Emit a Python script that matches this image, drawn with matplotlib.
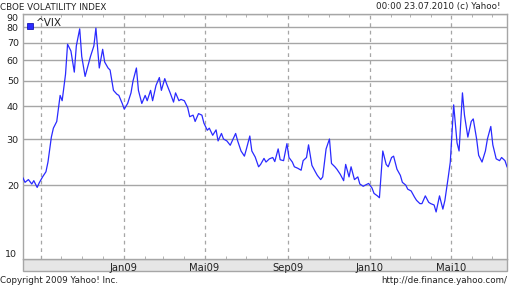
import matplotlib
matplotlib.use('Agg')
import matplotlib.pyplot as plt
import matplotlib.patches as patches
import matplotlib.dates as mdates
from matplotlib.ticker import NullLocator, FixedLocator, NullFormatter
import pandas as pd

vix = [21.3, 20.5, 21.0, 20.2, 20.8, 19.6, 20.4, 21.5, 22.5, 24.5,
       30.5, 33.0, 35.0, 44.0, 42.0, 53.0, 69.0, 65.0, 54.0, 68.0,
       79.0, 62.0, 52.0, 58.0, 62.0, 68.0, 79.5, 56.0, 66.0, 59.0,
       56.0, 55.0, 46.0, 44.5, 44.0, 41.0, 39.0, 41.0, 45.0, 50.0,
       56.0, 46.0, 41.0, 44.0, 42.0, 46.0, 42.0, 48.0, 51.5, 46.0,
       51.0, 48.5, 45.0, 41.5, 45.0, 42.0, 42.5, 42.0, 39.5, 36.5,
       37.0, 35.0, 37.5, 37.0, 34.5, 32.4, 33.0, 31.0, 32.5, 29.5,
       31.5, 30.0, 29.5, 28.4, 29.5, 31.5, 29.5, 27.0, 25.8, 27.5,
       30.8, 27.0, 25.6, 23.5, 24.0, 25.3, 24.5, 25.2, 25.5, 24.6,
       27.5, 25.0, 24.8, 28.8, 25.5, 24.5, 23.5, 23.2, 22.8, 24.8,
       25.5, 28.5, 23.8, 22.5, 21.8, 21.0, 21.5, 27.5, 30.0, 24.2,
       23.5, 23.0, 22.0, 20.8, 24.0, 21.5, 23.5, 21.0, 21.5, 20.2,
       19.8, 20.0, 20.3, 19.5, 18.6, 18.2, 17.9, 27.0, 24.0, 23.5,
       25.5, 25.8, 23.0, 21.8, 20.5, 20.0, 19.3, 19.0, 18.0, 17.5,
       17.0, 17.0, 18.2, 17.2, 17.0, 16.8, 15.8, 18.2, 16.2, 17.5,
       21.5, 24.5, 40.5, 29.0, 27.0, 45.0, 37.0, 30.5, 35.0, 35.8,
       30.0, 26.0, 24.5, 27.0, 30.0, 33.5, 28.5, 25.2, 24.8, 25.5,
       24.8, 23.5]
dates = pd.bdate_range('2008-08-05', periods=len(vix), freq='3B')

grid_dates = pd.to_datetime(['2008-09-01', '2009-01-01', '2009-05-01',
                             '2009-09-01', '2010-01-01', '2010-05-01'])
grid_labels = ['', 'Jan09', 'Mai09', 'Sep09', 'Jan10', 'Mai10']
y_ticks = [20, 30, 40, 50, 60, 70, 80, 90]

grau = '#a6a6a6'
W, H = 512, 285

fig = plt.figure(figsize=(W / 100, H / 100), dpi=100)
ax = fig.add_axes([23 / W, 1 - 259 / H, 484 / W, 245 / H])

# graues Band unter der Zeitachse
band = patches.Rectangle((23 / W, 1 - 271 / H), 484 / W, 12 / H,
                         transform=fig.transFigure, facecolor='#e6e6e6',
                         edgecolor=grau, linewidth=1, zorder=-1)
fig.patches.append(band)

ax.plot(dates, vix, color='#2a2aff', linewidth=0.9, zorder=3)

ax.set_yscale('log')
ax.set_ylim(10.45, 90)
ax.set_xlim(pd.Timestamp('2008-08-05'), pd.Timestamp('2010-07-23'))

ax.yaxis.set_major_locator(FixedLocator(y_ticks))
ax.yaxis.set_minor_locator(NullLocator())
ax.yaxis.set_minor_formatter(NullFormatter())
ax.set_yticklabels([str(v) for v in y_ticks])
ax.tick_params(axis='y', length=0, pad=3, labelsize=6.8, labelcolor='#222222')
ax.get_yticklabels()[-1].set_va('top')
ax.text(-0.012, 0.018, '10', transform=ax.transAxes, ha='right', va='center',
        fontsize=6.8, color='#222222')
ax.yaxis.grid(True, color=grau, linewidth=1)

for d in grid_dates:
    ax.axvline(d, color=grau, linewidth=0.9, linestyle=(0, (3, 3)), zorder=1)

ax.set_xticks(grid_dates)
ax.set_xticklabels(grid_labels)
ax.xaxis.set_minor_locator(mdates.MonthLocator())
ax.tick_params(axis='x', which='major', length=0, pad=3, labelsize=7.2,
               labelcolor='#222222')
ax.tick_params(axis='x', which='minor', direction='in', length=2.5,
               top=True, bottom=True, color=grau)

for s in ax.spines.values():
    s.set_color(grau)
    s.set_linewidth(1)

# Legende
ax.add_patch(patches.Rectangle((27 / W, 1 - 29.3 / H), 6 / W, 6 / H,
                               transform=fig.transFigure, facecolor='#2a2aff',
                               edgecolor='#0000aa', linewidth=0.5, zorder=5))
fig.text(36 / W, 1 - 23.5 / H, '^VIX', fontsize=7.6, va='center', ha='left',
         color='#222222')

fig.text(0, 1 - 7 / H, 'CBOE VOLATILITY INDEX', fontsize=6.3, va='center',
         ha='left', color='#222222')
fig.text(376 / W, 1 - 7 / H, '00:00 23.07.2010 (c) Yahoo!', fontsize=6.3,
         va='center', ha='left', color='#222222')
fig.text(0, 1 - 280.5 / H, 'Copyright 2009 Yahoo! Inc.', fontsize=6.3,
         va='center', ha='left', color='#222222')
fig.text(507 / W, 1 - 280.5 / H, 'http://de.finance.yahoo.com/', fontsize=6.3,
         va='center', ha='right', color='#222222')

fig.savefig('out.png', dpi=100)
